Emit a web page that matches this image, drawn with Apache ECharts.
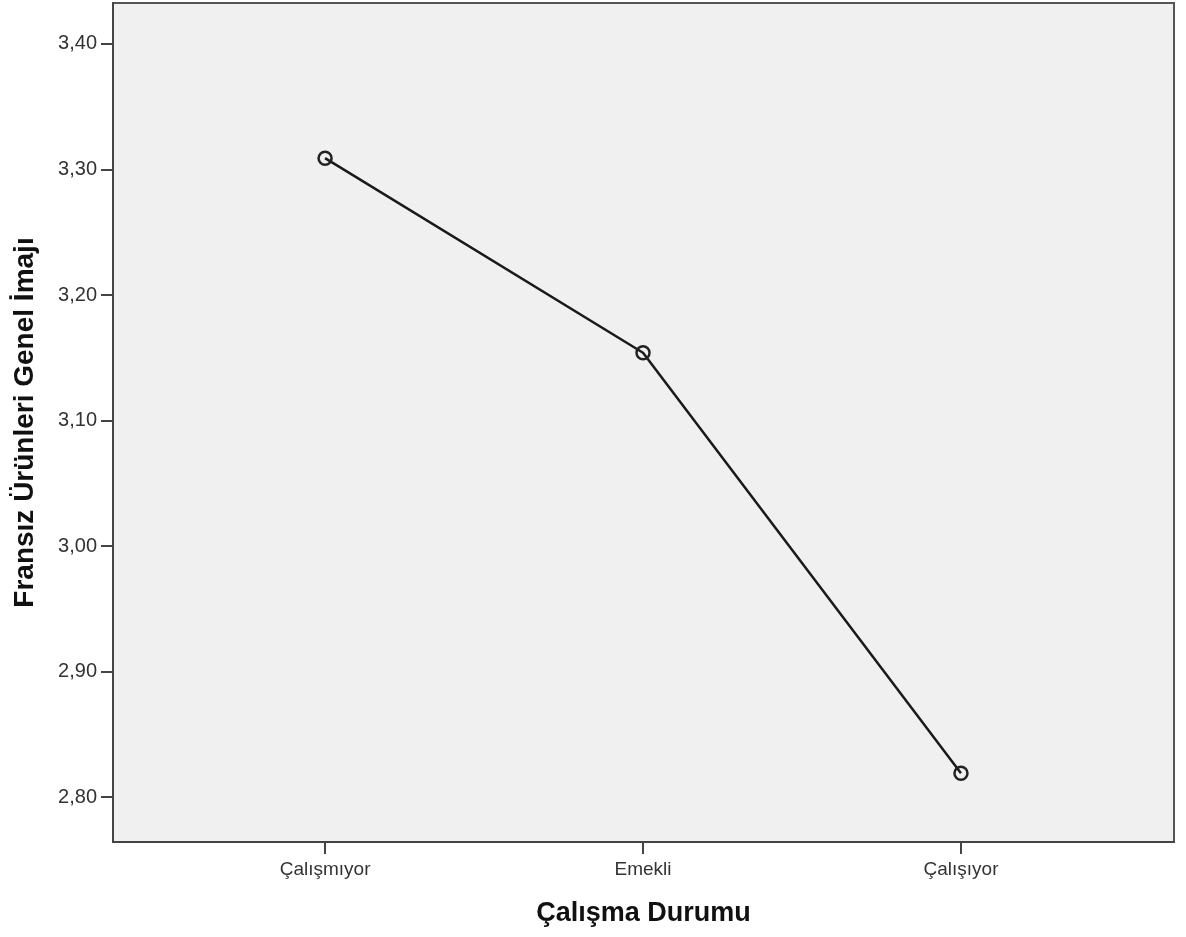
<!DOCTYPE html>
<html>
<head>
<meta charset="utf-8">
<script src="https://cdn.jsdelivr.net/npm/echarts@6/dist/echarts.min.js"></script>
<style>
  html, body { margin: 0; padding: 0; background: #fff; }
  #chart { width: 1186px; height: 937px; }
</style>
</head>
<body>
<div id="chart"></div>
<script>
// values
const categories = ['Çalışmıyor', 'Emekli', 'Çalışıyor'];
const means = [3.309, 3.154, 2.819];
const yTicks = [2.8, 2.9, 3.0, 3.1, 3.2, 3.3, 3.4];

const font = '"Liberation Sans", Arial, sans-serif';
const chart = echarts.init(document.getElementById('chart'));

chart.setOption({
  animation: false,
  grid: {
    left: 113, right: 12, top: 3, bottom: 95,
    show: true,
    backgroundColor: '#f0f0f0',
    borderColor: '#555',
    borderWidth: 2
  },
  xAxis: {
    type: 'value',
    min: -0.667,
    max: 2.67,
    name: 'Çalışma Durumu',
    nameLocation: 'middle',
    nameGap: 58,
    nameTextStyle: { fontFamily: font, fontSize: 27, fontWeight: 'bold', color: '#111' },
    splitLine: { show: false },
    axisLine: { show: true, onZero: false, lineStyle: { color: '#444', width: 2 } },
    axisTick: { show: true, length: 12, customValues: [0, 1, 2], lineStyle: { color: '#444', width: 2 } },
    axisLabel: {
      customValues: [0, 1, 2],
      formatter: v => categories[Math.round(v)] || '',
      fontFamily: font, fontSize: 19, color: '#333', margin: 18
    }
  },
  yAxis: {
    type: 'value',
    min: 2.7643,
    max: 3.4326,
    name: 'Fransız Ürünleri Genel İmajı',
    nameLocation: 'middle',
    nameGap: 74,
    nameTextStyle: { fontFamily: font, fontSize: 28, fontWeight: 'bold', color: '#111' },
    splitLine: { show: false },
    axisLine: { show: true, onZero: false, lineStyle: { color: '#444', width: 2 } },
    axisTick: { show: true, length: 12, customValues: yTicks, lineStyle: { color: '#444', width: 2 } },
    axisLabel: {
      customValues: yTicks,
      formatter: v => v.toFixed(2).replace('.', ','),
      fontFamily: font, fontSize: 20, color: '#333', margin: 16
    }
  },
  series: [{
    type: 'line',
    data: means.map((m, i) => [i, m]),
    symbol: 'circle',
    symbolSize: 13,
    lineStyle: { color: '#1a1a1a', width: 2.5 },
    itemStyle: { color: 'rgba(0,0,0,0)', borderColor: '#222', borderWidth: 2.5 }
  }]
});
</script>
</body>
</html>
